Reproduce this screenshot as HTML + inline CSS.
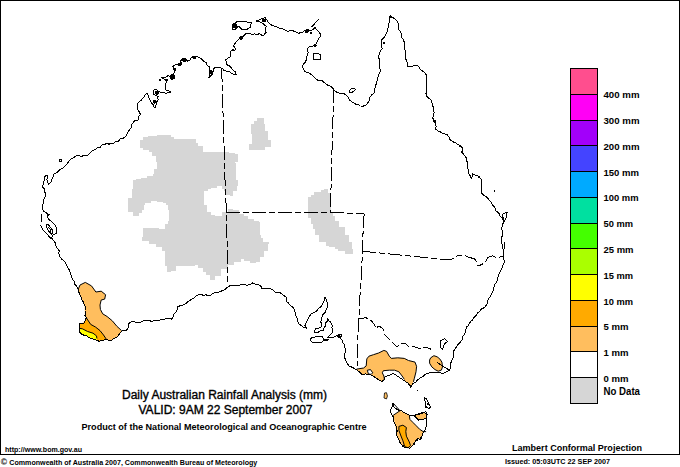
<!DOCTYPE html>
<html><head><meta charset="utf-8">
<style>
html,body{margin:0;padding:0;background:#fff;}
body{width:680px;height:467px;overflow:hidden;}
svg{display:block;}
text{font-family:"Liberation Sans",sans-serif;fill:#000;}
.lab{font-size:9.5px;font-weight:bold;}
</style></head><body>
<svg width="680" height="467" viewBox="0 0 680 467">
<rect x="0" y="0" width="680" height="467" fill="#fff"/>
<rect x="0.5" y="0.5" width="679" height="454" fill="none" stroke="#000" stroke-width="1"/>
<defs><clipPath id="land"><path d="M47.0,175.0 L47.0,179.5 L48.5,184.0 L50.7,182.5 L52.2,178.7 L53.7,174.2 L57.5,172.0 L62.7,168.2 L67.2,163.7 L70.6,159.4 L76.8,155.0 L81.2,156.8 L88.2,155.0 L92.6,150.2 L99.7,147.9 L102.4,144.4 L111.2,143.2 L118.6,141.1 L126.1,135.7 L131.4,127.1 L134.6,120.7 L138.2,120.0 L139.0,116.0 L140.5,114.5 L139.0,111.5 L137.5,109.2 L137.5,105.5 L138.2,102.5 L141.2,100.2 L144.2,96.5 L145.7,94.2 L147.2,93.5 L148.0,95.0 L149.5,99.5 L151.7,103.2 L154.0,107.0 L155.5,107.7 L156.2,104.0 L157.0,101.7 L158.5,99.5 L157.0,98.0 L158.5,96.5 L155.5,95.7 L154.7,94.2 L153.2,95.0 L153.2,92.0 L154.0,89.7 L156.2,89.7 L158.5,91.2 L161.5,92.7 L166.0,93.5 L171.2,92.0 L167.5,90.5 L165.2,89.7 L166.0,87.5 L165.2,84.5 L166.7,82.2 L164.5,79.2 L161.5,77.7 L166.0,77.0 L168.2,75.5 L169.7,76.2 L172.7,74.0 L175.0,72.5 L173.5,68.7 L172.7,66.5 L175.0,65.0 L178.0,64.2 L181.0,65.0 L181.7,63.5 L180.2,61.2 L182.5,59.0 L184.7,58.2 L186.2,59.7 L187.7,61.2 L190.0,60.5 L190.7,58.2 L193.0,56.7 L196.0,56.0 L199.5,57.7 L204.0,61.5 L209.2,66.7 L210.0,71.2 L208.5,78.0 L212.2,74.2 L213.0,69.0 L217.5,67.5 L222.0,68.2 L224.2,70.5 L229.5,71.2 L231.7,73.5 L236.2,74.2 L231.7,68.2 L226.5,64.5 L225.7,60.0 L230.2,57.0 L231.0,51.0 L235.5,49.5 L233.2,45.7 L236.2,42.0 L240.0,37.5 L243.7,36.0 L246.7,33.0 L252.0,34.5 L259.5,33.7 L263.2,36.0 L266.1,32.3 L266.1,26.3 L261.9,22.8 L255.9,21.1 L260.1,19.4 L265.3,17.7 L268.7,22.8 L272.1,25.4 L277.3,27.1 L282.4,28.8 L287.5,31.4 L292.7,30.6 L298.7,34.0 L304.7,30.6 L308.1,29.7 L313.2,29.7 L315.0,27.1 L321.0,35.7 L318.4,39.1 L315.8,44.3 L313.2,46.0 L308.1,47.7 L308.1,52.8 L306.4,59.7 L302.1,66.5 L303.8,70.0 L309.8,73.4 L316.7,79.4 L323.5,81.9 L330.4,86.2 L333.3,88.7 L337.2,92.5 L343.9,93.5 L347.8,96.4 L349.7,100.2 L355.5,104.1 L360.3,106.0 L366.1,105.0 L369.0,101.2 L369.9,97.3 L373.8,93.5 L375.7,85.8 L377.6,80.0 L378.4,75.5 L380.3,71.6 L379.3,63.9 L379.3,54.3 L382.2,48.5 L381.3,39.9 L386.1,34.1 L388.0,28.3 L389.9,18.7 L390.9,15.8 L394.7,18.7 L397.6,21.6 L398.6,29.3 L401.5,35.0 L404.4,44.7 L405.3,58.2 L408.2,66.8 L414.0,65.9 L416.9,64.9 L420.7,69.7 L425.6,73.6 L426.5,83.2 L426.0,87.7 L427.0,96.4 L431.8,101.2 L433.7,109.9 L432.7,117.6 L435.6,123.3 L435.6,129.1 L440.4,132.0 L447.2,134.9 L450.1,139.7 L455.9,142.6 L461.6,146.4 L462.6,153.2 L466.4,158.0 L467.4,164.7 L467.6,165.8 L468.5,173.5 L471.4,178.3 L472.4,173.5 L477.2,175.4 L481.1,179.3 L482.0,183.1 L481.1,191.8 L485.9,196.6 L489.7,200.5 L492.6,205.3 L497.4,212.0 L500.3,216.8 L503.2,217.8 L504.2,221.7 L502.3,226.5 L502.3,233.2 L501.3,240.9 L501.0,242.8 L502.9,245.4 L503.6,250.5 L503.6,255.7 L504.2,262.1 L500.4,271.1 L497.8,277.5 L495.2,283.9 L493.3,290.0 L486.3,305.0 L480.0,311.3 L473.8,317.5 L468.8,325.0 L465.5,330.0 L464.4,334.3 L462.8,338.6 L460.7,341.8 L456.9,346.1 L454.3,349.8 L453.7,354.6 L452.1,360.0 L450.5,365.3 L449.4,370.1 L447.3,371.2 L445.2,372.8 L440.3,372.8 L433.9,372.8 L430.7,372.3 L427.5,373.4 L424.3,375.0 L420.0,378.2 L416.0,381.9 L412.8,383.5 L410.7,387.3 L408.5,383.5 L405.3,381.4 L402.1,379.3 L398.9,377.1 L395.7,375.0 L393.5,373.4 L390.3,375.0 L387.1,376.0 L385.0,377.1 L383.9,380.3 L381.8,381.4 L378.0,379.3 L375.3,377.7 L372.7,375.5 L368.4,374.4 L365.7,373.9 L362.0,374.4 L359.3,371.8 L356.6,369.6 L355.0,369.1 L349.5,366.4 L345.9,360.9 L344.1,354.5 L345.5,349.0 L342.7,342.6 L340.1,338.3 L341.9,334.9 L339.3,334.0 L335.9,336.1 L330.7,337.4 L327.7,337.4 L329.9,335.3 L332.4,332.3 L332.4,325.4 L330.5,322.0 L327.7,318.6 L325.6,322.9 L325.1,326.3 L323.9,330.6 L320.0,331.0 L317.4,332.7 L314.4,332.3 L314.9,330.1 L315.7,328.0 L319.1,328.0 L320.9,327.1 L320.9,322.0 L321.7,317.7 L322.6,314.7 L325.6,311.7 L326.0,310.0 L327.7,304.5 L326.8,300.0 L325.0,297.3 L324.1,300.9 L321.4,306.4 L316.8,310.9 L311.4,313.6 L309.3,316.4 L308.0,319.4 L306.3,322.0 L305.0,325.4 L306.8,328.2 L303.2,327.3 L298.6,323.6 L297.7,319.1 L295.0,311.8 L292.9,307.4 L289.4,304.7 L285.9,301.2 L286.8,297.6 L283.2,295.0 L279.7,292.4 L274.7,291.8 L269.4,288.2 L264.1,289.1 L258.8,284.7 L252.6,282.9 L246.5,285.2 L241.2,284.7 L233.2,285.6 L228.8,286.5 L222.6,290.4 L212.9,293.5 L210.3,295.3 L197.1,295.3 L188.2,301.5 L182.9,305.0 L177.6,306.8 L175.0,312.9 L171.5,319.1 L166.2,318.6 L160.0,320.0 L155.9,320.3 L141.8,321.6 L130.0,322.5 L128.5,324.0 L128.5,327.5 L126.5,330.0 L124.0,330.0 L121.2,331.5 L117.6,336.8 L111.5,340.3 L108.8,340.3 L105.3,339.4 L99.1,341.2 L96.5,340.3 L91.2,338.5 L85.9,335.4 L81.5,334.1 L79.3,329.7 L79.7,323.5 L84.6,322.6 L86.3,317.8 L85.0,315.6 L84.6,305.0 L83.5,302.6 L80.9,296.5 L78.2,289.4 L74.7,284.1 L71.2,275.3 L69.4,270.0 L67.9,268.2 L64.4,261.2 L60.0,256.8 L59.1,250.6 L55.7,245.0 L54.8,241.8 L51.8,237.1 L53.5,234.5 L56.5,233.3 L56.5,229.8 L55.7,225.5 L51.4,221.3 L47.1,216.1 L49.7,214.4 L48.0,214.4 L43.3,211.0 L42.8,205.0 L43.2,200.4 L45.5,196.0 L44.7,189.2 L42.5,187.0 L43.2,184.7 L44.7,176.5 Z"/><path d="M393.1,403.2 L391.9,407.3 L390.8,409.6 L391.4,414.2 L393.7,417.7 L394.8,423.5 L396.0,429.3 L396.6,433.9 L398.9,439.7 L401.8,444.9 L405.3,447.8 L409.9,448.3 L412.8,445.5 L415.7,440.8 L417.4,438.5 L420.9,439.7 L422.0,436.2 L423.2,432.7 L425.5,429.3 L426.1,424.6 L426.7,418.8 L427.2,414.2 L426.1,411.9 L422.0,412.5 L417.4,414.2 L412.8,415.4 L409.3,415.4 L403.5,412.5 L398.9,410.2 L395.4,408.4 L393.7,406.7 Z"/></clipPath></defs><g clip-path="url(#land)" shape-rendering="crispEdges"><path d="M140.0,140.0 L142.7,140.0 L142.7,138.2 L142.7,136.5 L145.3,136.5 L148.2,136.5 L148.2,136.2 L148.2,135.9 L151.2,135.9 L154.1,135.9 L154.1,135.6 L157.2,135.6 L157.2,135.4 L157.2,135.1 L160.3,135.1 L163.4,135.1 L163.4,134.9 L163.4,134.7 L166.5,134.7 L170.9,134.7 L170.9,136.5 L174.0,136.5 L174.0,137.8 L174.0,139.1 L177.1,139.1 L180.1,139.1 L180.1,139.1 L180.1,139.1 L183.1,139.1 L186.1,139.1 L186.1,139.1 L186.1,139.1 L189.1,139.1 L192.1,139.1 L192.1,139.1 L195.6,139.1 L195.6,142.6 L198.2,142.6 L198.2,144.4 L198.2,146.2 L200.9,146.2 L203.1,146.2 L203.1,148.8 L203.1,151.5 L205.3,151.5 L208.2,151.5 L208.2,151.5 L208.2,151.5 L211.1,151.5 L214.0,151.5 L214.0,151.5 L214.0,151.5 L216.9,151.5 L219.8,151.5 L219.8,151.5 L219.8,151.5 L222.7,151.5 L225.6,151.5 L225.6,151.5 L228.7,151.5 L228.7,152.2 L228.7,152.8 L231.8,152.8 L234.8,152.8 L234.8,153.4 L234.8,154.1 L237.9,154.1 L237.9,154.1 L237.9,156.8 L237.9,159.4 L237.9,159.4 L237.9,159.4 L237.9,162.1 L235.3,162.1 L235.3,163.0 L235.5,163.0 L235.5,165.8 L235.5,168.6 L235.6,168.6 L235.8,168.6 L235.8,171.3 L235.8,174.1 L235.9,174.1 L236.0,174.1 L236.0,176.9 L236.0,179.7 L236.2,179.7 L237.5,179.7 L237.5,182.8 L237.5,185.9 L238.8,185.9 L237.1,185.9 L237.1,188.6 L237.1,191.2 L235.3,191.2 L232.6,191.2 L232.6,195.6 L230.0,195.6 L230.0,194.7 L226.5,194.7 L226.5,194.7 L225.3,194.7 L225.3,191.2 L224.1,191.2 L224.1,188.8 L221.8,188.8 L221.8,187.4 L221.8,186.0 L219.4,186.0 L216.7,186.0 L216.7,186.9 L216.7,187.9 L213.9,187.9 L211.2,187.9 L211.2,188.8 L207.6,188.8 L207.6,190.0 L207.6,191.2 L204.1,191.2 L204.1,191.2 L204.1,194.0 L204.1,196.8 L204.1,196.8 L204.1,196.8 L204.1,199.7 L204.1,202.5 L204.1,202.5 L204.1,202.5 L204.1,205.3 L206.5,205.3 L206.5,208.4 L206.5,211.6 L208.8,211.6 L211.2,211.6 L211.2,214.7 L214.7,214.7 L214.7,215.3 L214.7,215.9 L218.2,215.9 L221.8,215.9 L221.8,214.2 L221.8,212.4 L225.3,212.4 L227.7,212.4 L227.7,210.6 L227.7,208.8 L230.0,208.8 L232.9,208.8 L232.9,209.4 L232.9,210.0 L235.9,210.0 L238.6,210.0 L238.6,212.0 L238.6,213.9 L241.4,213.9 L244.1,213.9 L244.1,215.9 L247.6,215.9 L247.6,217.7 L247.6,219.4 L251.2,219.4 L253.9,219.4 L253.9,220.2 L253.9,221.0 L256.7,221.0 L259.4,221.0 L259.4,221.8 L259.6,221.8 L259.6,225.1 L259.6,228.4 L259.9,228.4 L260.1,228.4 L260.1,231.6 L260.1,234.9 L260.4,234.9 L260.6,234.9 L260.6,238.2 L263.3,238.2 L263.3,240.2 L263.3,242.1 L266.1,242.1 L268.8,242.1 L268.8,244.1 L268.2,244.1 L268.2,247.6 L268.2,251.2 L267.6,251.2 L264.1,251.2 L264.1,254.2 L264.1,257.1 L260.6,257.1 L260.0,257.1 L260.0,259.5 L260.0,261.8 L259.4,261.8 L256.4,261.8 L256.4,262.4 L256.4,262.9 L253.5,262.9 L250.4,262.9 L250.4,261.7 L250.4,260.6 L247.2,260.6 L244.1,260.6 L244.1,259.4 L240.9,259.4 L240.9,260.9 L240.9,262.4 L237.6,262.4 L234.4,262.4 L234.4,263.8 L234.4,265.3 L231.2,265.3 L227.7,265.3 L227.7,267.2 L227.7,269.2 L224.2,269.2 L220.8,269.2 L220.8,272.5 L220.8,275.9 L217.5,275.9 L215.1,275.9 L215.1,277.9 L215.1,279.8 L212.7,279.8 L210.4,279.8 L210.4,277.2 L210.4,274.7 L208.2,274.7 L205.9,274.7 L205.9,272.1 L203.3,272.1 L203.3,269.8 L203.3,267.6 L200.8,267.6 L198.2,267.6 L198.2,265.3 L195.2,265.3 L195.2,265.4 L195.2,265.6 L192.1,265.6 L189.1,265.6 L189.1,265.7 L189.1,265.9 L186.1,265.9 L183.1,265.9 L183.1,266.0 L183.1,266.2 L180.0,266.2 L177.0,266.2 L177.0,266.3 L175.6,266.3 L175.6,268.7 L175.6,271.1 L174.1,271.1 L171.2,271.1 L171.2,271.6 L171.2,272.1 L168.4,272.1 L166.9,272.1 L166.9,269.2 L166.9,266.3 L165.5,266.3 L165.3,266.3 L165.3,263.2 L165.3,260.1 L165.1,260.1 L164.9,260.1 L164.9,257.1 L164.9,254.0 L164.7,254.0 L164.5,254.0 L164.5,250.9 L161.6,250.9 L161.6,248.9 L161.6,247.0 L158.7,247.0 L155.6,247.0 L155.6,245.6 L155.6,244.1 L152.4,244.1 L149.3,244.1 L149.3,242.6 L149.3,241.2 L146.2,241.2 L142.3,241.2 L142.3,237.4 L142.6,237.4 L142.6,234.2 L142.6,231.0 L143.0,231.0 L143.3,231.0 L143.3,227.8 L146.7,227.8 L146.7,227.8 L146.7,227.8 L150.0,227.8 L153.2,227.8 L153.2,228.0 L153.2,228.2 L156.3,228.2 L159.4,228.2 L159.4,228.5 L159.4,228.7 L162.6,228.7 L164.5,228.7 L164.5,226.1 L164.5,223.6 L166.5,223.6 L168.4,223.6 L168.4,221.0 L168.6,221.0 L168.6,218.3 L168.6,215.7 L168.9,215.7 L169.1,215.7 L169.1,213.1 L169.1,210.4 L169.3,210.4 L168.0,210.4 L168.0,207.8 L168.0,205.3 L166.8,205.3 L165.5,205.3 L165.5,202.7 L162.6,202.7 L162.6,202.2 L162.6,201.8 L159.7,201.8 L156.8,201.8 L156.8,201.3 L156.8,200.8 L153.9,200.8 L151.0,200.8 L151.0,202.1 L151.0,203.3 L148.1,203.3 L145.2,203.3 L145.2,204.6 L144.2,204.6 L144.2,207.5 L144.2,210.4 L143.3,210.4 L142.3,210.4 L142.3,213.3 L138.9,213.3 L138.9,214.8 L138.9,216.2 L135.6,216.2 L133.0,216.2 L133.0,214.3 L133.0,212.3 L130.5,212.3 L127.9,212.3 L127.9,210.4 L127.9,210.4 L127.9,207.3 L127.9,204.2 L127.9,204.2 L127.9,204.2 L127.9,201.0 L127.9,197.9 L127.9,197.9 L132.1,197.9 L132.1,195.6 L132.3,195.6 L132.3,192.4 L132.3,189.2 L132.4,189.2 L132.6,189.2 L132.6,186.1 L132.6,182.9 L132.7,182.9 L132.9,182.9 L132.9,179.7 L135.6,179.7 L135.6,179.2 L135.6,178.8 L138.2,178.8 L140.8,178.8 L140.8,178.3 L140.8,177.9 L143.5,177.9 L146.7,177.9 L146.7,176.7 L146.7,175.6 L150.0,175.6 L153.2,175.6 L153.2,174.4 L153.6,174.4 L153.6,171.8 L153.6,169.1 L154.1,169.1 L156.8,169.1 L156.8,167.4 L156.6,167.4 L156.6,164.5 L156.6,161.7 L156.4,161.7 L156.1,161.7 L156.1,158.8 L156.1,155.9 L155.9,155.9 L151.5,155.9 L151.5,151.5 L148.6,151.5 L148.6,150.6 L148.6,149.7 L145.8,149.7 L142.9,149.7 L142.9,148.8 L142.9,147.9 L140.0,147.9 L140.0,147.9 L140.0,145.3 L140.0,142.6 L140.0,142.6 L140.0,142.6 Z" fill="#D6D6D6"/><path d="M323.7,189.1 L327.3,189.1 L327.3,189.1 L328.2,189.1 L328.2,192.7 L330.0,192.7 L330.0,196.4 L330.2,196.4 L330.2,199.7 L330.2,203.0 L330.4,203.0 L330.6,203.0 L330.6,206.2 L330.6,209.5 L330.8,209.5 L331.0,209.5 L331.0,212.8 L332.8,212.8 L332.8,216.4 L334.6,216.4 L334.6,218.7 L334.6,221.0 L336.4,221.0 L339.1,221.0 L339.1,224.2 L339.1,227.3 L341.9,227.3 L344.6,227.3 L344.6,230.9 L344.6,234.6 L347.3,234.6 L348.7,234.6 L348.7,238.2 L348.7,241.9 L350.1,241.9 L351.5,241.9 L351.5,245.6 L351.5,249.2 L352.8,249.2 L352.8,249.2 L352.8,251.4 L352.8,253.7 L352.8,253.7 L350.6,253.7 L350.6,253.7 L350.6,253.7 L348.3,253.7 L344.9,253.7 L344.9,252.2 L344.9,250.7 L341.6,250.7 L338.2,250.7 L338.2,249.2 L335.2,249.2 L335.2,248.0 L335.2,246.7 L332.1,246.7 L329.1,246.7 L329.1,245.5 L325.5,245.5 L325.5,243.7 L325.5,241.9 L321.8,241.9 L319.1,241.9 L319.1,238.2 L319.1,234.6 L316.4,234.6 L315.2,234.6 L315.2,231.9 L315.2,229.1 L314.1,229.1 L312.9,229.1 L312.9,226.4 L312.9,223.7 L311.8,223.7 L310.6,223.7 L310.6,221.0 L310.6,218.2 L309.4,218.2 L308.2,218.2 L308.2,215.5 L308.2,215.5 L308.2,212.5 L308.2,209.4 L308.2,209.4 L308.2,209.4 L308.2,206.4 L308.2,203.4 L308.2,203.4 L308.2,203.4 L308.2,200.3 L308.2,197.3 L308.2,197.3 L310.9,197.3 L310.9,194.6 L313.7,194.6 L313.7,191.8 L315.9,191.8 L315.9,191.8 L315.9,191.8 L318.2,191.8 L320.5,191.8 L320.5,190.9 L320.5,190.0 L322.8,190.0 L323.7,190.0 Z" fill="#D6D6D6"/><path d="M257.2,118.0 L263.9,118.0 L263.9,123.9 L264.7,123.9 L264.7,130.9 L267.8,130.9 L267.8,140.0 L271.0,140.0 L271.0,146.8 L264.7,146.8 L264.7,149.8 L249.1,149.8 L249.1,143.9 L252.1,143.9 L252.1,133.9 L251.1,133.9 L251.1,123.9 L254.1,123.9 L254.1,120.9 L257.2,120.9 Z" fill="#D6D6D6"/><path d="M60.0,290.0 L78.2,289.4 L80.0,285.0 L85.3,282.4 L91.5,285.9 L95.9,292.0 L101.2,291.2 L105.6,294.7 L104.7,299.1 L101.2,300.0 L100.0,305.0 L100.4,309.4 L102.7,313.8 L107.1,316.5 L112.4,320.9 L116.8,326.2 L121.6,330.6 L124.0,335.0 L124.0,350.0 L60.0,350.0 Z" fill="#FFBE5E"/><path d="M60.0,316.0 L86.3,317.8 L90.7,324.4 L95.6,327.1 L100.0,330.6 L103.5,335.0 L106.2,339.0 L106.5,350.0 L60.0,350.0 Z" fill="#FFAA00"/><path d="M60.0,328.4 L79.7,328.4 L82.4,328.8 L87.6,331.5 L93.0,333.2 L96.5,335.9 L96.9,338.5 L97.0,350.0 L60.0,350.0 Z" fill="#FFFF00"/><path d="M356.6,369.1 L363.6,368.0 L366.2,365.9 L366.8,358.9 L368.9,356.2 L373.7,354.6 L378.6,353.0 L383.9,350.4 L386.6,351.4 L389.3,356.2 L391.4,358.4 L397.8,357.8 L404.3,358.4 L408.5,360.5 L415.0,362.1 L416.6,366.4 L416.0,371.8 L414.4,378.2 L413.4,381.9 L413.0,395.0 L350.0,395.0 L350.0,369.0 Z" fill="#FFBE5E"/><path d="M404.3,379.3 L402.1,376.0 L398.9,371.8 L394.6,370.2 L389.3,370.2 L383.4,370.7 L382.3,372.8 L383.9,376.0 L384.4,379.3 L381.8,381.4 L383.0,395.0 L406.0,395.0 Z" fill="#fff"/><path d="M380.0,400.0 L440.0,400.0 L440.0,455.0 L380.0,455.0 Z" fill="#FFBE5E"/><path d="M385.0,400.0 L393.0,403.0 L400.0,410.7 L393.1,415.4 L385.0,416.0 Z" fill="#fff"/><path d="M409.3,415.4 L409.9,419.4 L412.8,422.3 L416.3,425.8 L419.7,429.3 L423.2,431.6 L426.1,431.6 L440.0,431.6 L440.0,400.0 L409.3,400.0 Z" fill="#fff"/><path d="M413.9,415.4 L419.7,414.2 L424.4,412.5 L426.7,414.2 L426.7,418.3 L423.2,419.4 L418.6,420.0 L416.3,417.7 Z" fill="#FFBE5E" stroke="#000" stroke-width="1"/></g><path d="M78.2,289.4 L80.0,285.0 L85.3,282.4 L91.5,285.9 L95.9,292.0 L101.2,291.2 L105.6,294.7 L104.7,299.1 L101.2,300.0 L100.0,305.0 L100.4,309.4 L102.7,313.8 L107.1,316.5 L112.4,320.9 L116.8,326.2 L121.6,330.6" fill="none" stroke="#000" stroke-width="1"/><path d="M86.3,317.8 L90.7,324.4 L95.6,327.1 L100.0,330.6 L103.5,335.0 L106.2,339.0" fill="none" stroke="#000" stroke-width="1"/><path d="M79.7,328.4 L82.4,328.8 L87.6,331.5 L93.0,333.2 L96.5,335.9 L96.9,338.5" fill="none" stroke="#000" stroke-width="1"/><path d="M356.6,369.1 L363.6,368.0 L366.2,365.9 L366.8,358.9 L368.9,356.2 L373.7,354.6 L378.6,353.0 L383.9,350.4 L386.6,351.4 L389.3,356.2 L391.4,358.4 L397.8,357.8 L404.3,358.4 L408.5,360.5 L415.0,362.1 L416.6,366.4 L416.0,371.8 L414.4,378.2 L413.4,381.9" fill="none" stroke="#000" stroke-width="1"/><path d="M404.3,379.3 L402.1,376.0 L398.9,371.8 L394.6,370.2 L389.3,370.2 L383.4,370.7 L382.3,372.8 L383.9,376.0 L384.4,379.3 L381.8,381.4" fill="none" stroke="#000" stroke-width="1"/><path d="M367.3,370.2 L370.5,369.6 L372.7,372.8 L371.1,374.4 L368.4,373.9 Z" fill="#fff" stroke="#000" stroke-width="1"/><path d="M430.7,357.8 L433.9,355.7 L437.1,356.8 L439.8,358.9 L441.9,362.1 L442.5,366.9 L441.4,370.1 L438.2,371.2 L435.0,369.6 L431.8,366.9 L429.6,363.2 L429.6,360.0 Z" fill="#FFBE5E" stroke="#000" stroke-width="1"/><path d="M393.0,403.0 L400.0,410.7 L393.1,415.4" fill="none" stroke="#000" stroke-width="1"/><path d="M409.3,415.4 L409.9,419.4 L412.8,422.3 L416.3,425.8 L419.7,429.3 L423.2,431.6 L426.1,431.6" fill="none" stroke="#000" stroke-width="1"/><path d="M398.9,426.4 L402.9,425.2 L406.4,427.5 L405.8,431.6 L406.4,436.2 L409.3,442.0 L410.5,445.5 L408.1,447.8 L404.7,446.6 L402.9,440.8 L400.6,435.0 L398.9,430.4 Z" fill="#FFAA00" stroke="#000" stroke-width="1"/><path d="M384.5,393.0 L386.5,392.7 L387.4,396.0 L386.5,398.9 L384.0,398.0 Z" fill="#FFBE5E" stroke="#000" stroke-width="0.8"/><g fill="none" stroke="#000" stroke-width="1" stroke-linejoin="round" shape-rendering="crispEdges"><path d="M47.0,175.0 L47.6,177.2 L47.0,179.5 L47.2,181.9 L48.5,184.0 L50.7,182.5 L52.2,178.7 L53.4,176.6 L53.7,174.2 L57.5,172.0 L59.9,169.8 L62.7,168.2 L64.9,165.9 L67.2,163.7 L68.8,161.5 L70.6,159.4 L72.8,158.1 L75.0,156.8 L76.8,155.0 L79.2,155.3 L81.2,156.8 L83.3,155.5 L86.0,156.1 L88.2,155.0 L90.3,152.5 L92.6,150.2 L95.1,149.8 L97.1,147.9 L99.7,147.9 L101.0,146.1 L102.4,144.4 L104.6,144.5 L106.7,143.4 L109.1,144.2 L111.2,143.2 L113.8,143.1 L115.9,141.1 L118.6,141.1 L120.0,139.1 L122.4,138.5 L124.6,137.6 L126.1,135.7 L127.3,133.5 L128.4,131.2 L130.0,129.2 L131.4,127.1 L131.8,124.6 L133.1,122.6 L134.6,120.7 L138.2,120.0 L139.0,116.0 L140.5,114.5 L139.0,111.5 L137.5,109.2 L137.5,105.5 L138.2,102.5 L141.2,100.2 L142.6,98.3 L144.2,96.5 L145.7,94.2 L147.2,93.5 L148.0,95.0 L148.8,97.2 L149.5,99.5 L151.7,103.2 L153.2,104.9 L154.0,107.0 L155.5,107.7 L156.2,104.0 L157.0,101.7 L158.5,99.5 L157.0,98.0 L158.5,96.5 L155.5,95.7 L154.7,94.2 L153.2,95.0 L153.2,92.0 L154.0,89.7 L156.2,89.7 L158.5,91.2 L161.5,92.7 L163.8,92.7 L166.0,93.5 L168.5,92.3 L171.2,92.0 L167.5,90.5 L165.2,89.7 L166.0,87.5 L165.2,84.5 L166.7,82.2 L164.5,79.2 L161.5,77.7 L163.7,77.3 L166.0,77.0 L168.2,75.5 L169.7,76.2 L172.7,74.0 L175.0,72.5 L173.5,68.7 L172.7,66.5 L175.0,65.0 L178.0,64.2 L181.0,65.0 L181.7,63.5 L180.2,61.2 L182.5,59.0 L184.7,58.2 L186.2,59.7 L187.7,61.2 L190.0,60.5 L190.7,58.2 L193.0,56.7 L196.0,56.0 L199.5,57.7 L202.0,59.3 L204.0,61.5 L206.3,62.7 L207.1,65.3 L209.2,66.7 L209.5,69.0 L210.0,71.2 L209.3,73.4 L209.5,75.8 L208.5,78.0 L210.9,76.6 L212.2,74.2 L213.2,71.7 L213.0,69.0 L215.1,67.7 L217.5,67.5 L219.8,67.6 L222.0,68.2 L224.2,70.5 L226.8,71.2 L229.5,71.2 L231.7,73.5 L233.9,74.2 L236.2,74.2 L235.3,71.8 L233.1,70.3 L231.7,68.2 L229.4,65.9 L226.5,64.5 L226.4,62.2 L225.7,60.0 L227.8,58.2 L230.2,57.0 L230.7,54.0 L231.0,51.0 L233.4,50.8 L235.5,49.5 L234.8,47.3 L233.2,45.7 L234.7,43.9 L236.2,42.0 L238.2,39.8 L240.0,37.5 L243.7,36.0 L246.7,33.0 L249.6,33.0 L252.0,34.5 L254.5,33.8 L257.1,34.4 L259.5,33.7 L263.2,36.0 L264.5,34.1 L266.1,32.3 L265.6,29.3 L266.1,26.3 L264.0,24.5 L261.9,22.8 L259.0,21.6 L255.9,21.1 L258.1,20.5 L260.1,19.4 L262.6,18.4 L265.3,17.7 L267.1,20.2 L268.7,22.8 L272.1,25.4 L274.7,26.3 L277.3,27.1 L279.7,28.4 L282.4,28.8 L284.9,30.1 L287.5,31.4 L290.1,30.8 L292.7,30.6 L294.7,31.7 L297.1,32.2 L298.7,34.0 L300.3,32.2 L302.9,32.0 L304.7,30.6 L308.1,29.7 L310.6,30.5 L313.2,29.7 L315.0,27.1 L316.4,29.3 L318.1,31.3 L319.9,33.2 L321.0,35.7 L318.4,39.1 L317.1,41.7 L315.8,44.3 L313.2,46.0 L310.4,46.1 L308.1,47.7 L307.7,50.2 L308.1,52.8 L307.5,55.1 L306.4,57.3 L306.4,59.7 L305.3,62.2 L303.5,64.2 L302.1,66.5 L303.8,70.0 L305.4,71.8 L307.7,72.4 L309.8,73.4 L311.6,74.9 L313.5,76.1 L314.9,78.0 L316.7,79.4 L318.7,80.9 L321.5,80.3 L323.5,81.9 L325.6,83.7 L327.8,85.2 L330.4,86.2 L333.3,88.7 L334.8,91.0 L337.2,92.5 L339.4,93.2 L341.6,93.7 L343.9,93.5 L345.8,95.0 L347.8,96.4 L349.7,100.2 L351.6,101.6 L353.6,102.7 L355.5,104.1 L358.2,104.4 L360.3,106.0 L363.3,106.1 L366.1,105.0 L367.6,103.2 L369.0,101.2 L369.9,97.3 L371.5,95.1 L373.8,93.5 L374.4,90.9 L375.0,88.4 L375.7,85.8 L376.4,82.8 L377.6,80.0 L377.8,77.7 L378.4,75.5 L380.3,71.6 L380.0,69.0 L379.8,66.4 L379.3,63.9 L379.5,61.5 L379.2,59.1 L378.5,56.7 L379.3,54.3 L380.4,51.2 L382.2,48.5 L381.4,45.7 L381.7,42.8 L381.3,39.9 L383.3,38.3 L384.9,36.3 L386.1,34.1 L387.5,31.3 L388.0,28.3 L389.0,26.0 L388.6,23.4 L390.0,21.2 L389.9,18.7 L390.9,15.8 L392.6,17.5 L394.7,18.7 L397.6,21.6 L398.6,24.1 L399.0,26.6 L398.6,29.3 L400.7,31.8 L401.5,35.0 L401.8,37.5 L403.3,39.7 L404.3,42.1 L404.4,44.7 L404.4,47.0 L404.9,49.2 L405.5,51.4 L405.5,53.7 L405.1,56.0 L405.3,58.2 L406.5,60.2 L407.1,62.4 L407.2,64.8 L408.2,66.8 L411.1,66.3 L414.0,65.9 L416.9,64.9 L419.0,67.1 L420.7,69.7 L423.2,71.6 L425.6,73.6 L426.6,75.9 L426.2,78.4 L426.4,80.8 L426.5,83.2 L426.7,85.5 L426.0,87.7 L427.0,90.5 L426.0,93.6 L427.0,96.4 L428.6,98.0 L430.5,99.3 L431.8,101.2 L432.1,103.4 L432.3,105.7 L434.0,107.6 L433.7,109.9 L434.1,112.6 L433.6,115.1 L432.7,117.6 L433.8,120.6 L435.6,123.3 L436.1,126.2 L435.6,129.1 L437.8,130.8 L440.4,132.0 L442.6,133.2 L444.9,134.0 L447.2,134.9 L449.0,137.1 L450.1,139.7 L452.7,141.8 L455.9,142.6 L457.5,144.3 L459.7,145.2 L461.6,146.4 L462.4,148.6 L462.0,151.0 L462.6,153.2 L464.6,155.5 L466.4,158.0 L466.6,160.3 L467.3,162.4 L467.4,164.7 L467.6,165.8 L467.7,168.4 L468.9,170.9 L468.5,173.5 L470.2,175.7 L471.4,178.3 L472.6,176.1 L472.4,173.5 L474.6,175.0 L477.2,175.4 L479.4,177.1 L481.1,179.3 L482.0,183.1 L481.1,185.9 L481.7,188.9 L481.1,191.8 L482.2,193.9 L484.0,195.3 L485.9,196.6 L487.9,198.5 L489.7,200.5 L491.5,202.7 L492.6,205.3 L494.8,207.1 L495.3,210.1 L497.4,212.0 L499.5,214.0 L500.3,216.8 L503.2,217.8 L504.2,221.7 L502.8,223.9 L502.3,226.5 L501.6,228.7 L502.2,231.0 L502.3,233.2 L502.5,235.8 L501.0,238.3 L501.3,240.9 L501.0,242.8 L502.9,245.4 L502.5,248.1 L503.6,250.5 L503.3,253.1 L503.6,255.7 L503.9,258.9 L504.2,262.1 L503.4,264.4 L502.5,266.7 L501.8,269.0 L500.4,271.1 L499.3,273.1 L498.8,275.4 L497.8,277.5 L497.4,279.8 L496.7,282.0 L495.2,283.9 L494.0,286.9 L493.3,290.0 L492.6,292.3 L491.3,294.3 L490.6,296.5 L488.8,298.3 L487.7,300.4 L488.0,303.2 L486.3,305.0 L485.1,306.9 L483.3,308.3 L481.0,309.2 L480.0,311.3 L477.6,313.0 L476.0,315.6 L473.8,317.5 L472.9,319.6 L471.1,321.1 L469.6,322.8 L468.8,325.0 L466.6,327.1 L465.5,330.0 L465.2,332.2 L464.4,334.3 L463.0,336.2 L462.8,338.6 L460.7,341.8 L458.6,343.8 L456.9,346.1 L455.6,348.0 L454.3,349.8 L453.2,352.1 L453.7,354.6 L453.3,357.4 L452.1,360.0 L451.0,362.5 L450.5,365.3 L450.6,367.8 L449.4,370.1 L447.3,371.2 L445.2,372.8 L442.8,373.3 L440.3,372.8 L437.1,372.1 L433.9,372.8 L430.7,372.3 L427.5,373.4 L424.3,375.0 L422.4,377.0 L420.0,378.2 L417.7,379.7 L416.0,381.9 L412.8,383.5 L410.7,387.3 L408.5,383.5 L405.3,381.4 L402.1,379.3 L398.9,377.1 L395.7,375.0 L393.5,373.4 L390.3,375.0 L387.1,376.0 L385.0,377.1 L383.9,380.3 L381.8,381.4 L378.0,379.3 L375.3,377.7 L372.7,375.5 L370.6,374.8 L368.4,374.4 L365.7,373.9 L362.0,374.4 L359.3,371.8 L356.6,369.6 L355.0,369.1 L352.5,367.3 L349.5,366.4 L347.5,363.8 L345.9,360.9 L345.1,358.8 L344.4,356.7 L344.1,354.5 L345.4,351.9 L345.5,349.0 L344.7,346.8 L344.3,344.4 L342.7,342.6 L341.9,340.1 L340.1,338.3 L341.9,334.9 L339.3,334.0 L335.9,336.1 L333.4,337.3 L330.7,337.4 L327.7,337.4 L329.9,335.3 L332.4,332.3 L332.5,330.0 L331.8,327.7 L332.4,325.4 L330.5,322.0 L328.5,320.8 L327.7,318.6 L327.3,321.0 L325.6,322.9 L325.1,326.3 L323.9,328.3 L323.9,330.6 L320.0,331.0 L317.4,332.7 L314.4,332.3 L314.9,330.1 L315.7,328.0 L319.1,328.0 L320.9,327.1 L321.4,324.6 L320.9,322.0 L321.7,317.7 L322.6,314.7 L325.6,311.7 L326.0,310.0 L327.4,307.4 L327.7,304.5 L327.0,302.3 L326.8,300.0 L325.0,297.3 L324.1,300.9 L322.6,303.6 L321.4,306.4 L318.8,308.3 L316.8,310.9 L314.2,312.4 L311.4,313.6 L309.3,316.4 L308.0,319.4 L306.3,322.0 L305.0,325.4 L306.8,328.2 L303.2,327.3 L301.0,325.4 L298.6,323.6 L297.7,321.4 L297.7,319.1 L296.2,316.9 L295.5,314.4 L295.0,311.8 L294.5,309.3 L292.9,307.4 L291.2,306.0 L289.4,304.7 L288.1,302.5 L285.9,301.2 L286.8,297.6 L285.0,296.4 L283.2,295.0 L279.7,292.4 L277.2,292.5 L274.7,291.8 L272.3,289.6 L269.4,288.2 L266.7,288.1 L264.1,289.1 L261.8,288.2 L260.7,286.0 L258.8,284.7 L255.5,284.4 L252.6,282.9 L249.8,284.6 L246.5,285.2 L243.9,284.3 L241.2,284.7 L238.6,285.7 L235.9,285.7 L233.2,285.6 L230.8,285.3 L228.8,286.5 L226.8,287.9 L225.0,289.6 L222.6,290.4 L220.3,291.7 L217.9,292.3 L215.2,292.4 L212.9,293.5 L210.3,295.3 L208.1,295.9 L205.9,294.6 L203.7,295.5 L201.5,294.5 L199.3,294.6 L197.1,295.3 L195.1,297.1 L192.9,298.7 L190.4,300.0 L188.2,301.5 L185.9,303.8 L182.9,305.0 L180.2,305.7 L177.6,306.8 L177.4,309.1 L176.6,311.2 L175.0,312.9 L173.2,314.6 L173.0,317.2 L171.5,319.1 L168.9,318.7 L166.2,318.6 L163.1,319.4 L160.0,320.0 L155.9,320.3 L153.6,320.8 L151.3,321.4 L148.8,320.3 L146.4,320.4 L144.1,320.6 L141.8,321.6 L139.5,322.4 L137.1,322.4 L134.7,322.0 L132.3,321.6 L130.0,322.5 L128.5,324.0 L128.5,327.5 L126.5,330.0 L124.0,330.0 L121.2,331.5 L119.3,334.1 L117.6,336.8 L115.4,337.7 L113.4,338.9 L111.5,340.3 L108.8,340.3 L105.3,339.4 L102.3,340.7 L99.1,341.2 L96.5,340.3 L93.9,339.3 L91.2,338.5 L88.4,337.2 L85.9,335.4 L83.6,335.1 L81.5,334.1 L79.8,332.2 L79.3,329.7 L79.1,326.6 L79.7,323.5 L82.3,323.8 L84.6,322.6 L85.4,320.2 L86.3,317.8 L85.0,315.6 L85.1,312.9 L85.0,310.3 L85.4,307.6 L84.6,305.0 L83.5,302.6 L82.5,300.6 L81.5,298.7 L80.9,296.5 L79.7,294.2 L78.8,291.9 L78.2,289.4 L76.9,286.4 L74.7,284.1 L74.4,281.7 L72.7,279.8 L71.8,277.6 L71.2,275.3 L70.4,272.6 L69.4,270.0 L67.9,268.2 L66.8,265.8 L65.7,263.5 L64.4,261.2 L61.9,259.3 L60.0,256.8 L58.8,253.8 L59.1,250.6 L57.0,248.0 L55.7,245.0 L54.8,241.8 L52.7,239.8 L51.8,237.1 L53.5,234.5 L56.5,233.3 L56.5,229.8 L55.7,225.5 L53.6,223.3 L51.4,221.3 L49.4,220.0 L48.0,218.3 L47.1,216.1 L49.7,214.4 L48.0,214.4 L45.8,212.5 L43.3,211.0 L42.7,208.0 L42.8,205.0 L43.5,202.7 L43.2,200.4 L44.3,198.2 L45.5,196.0 L45.8,193.7 L44.4,191.5 L44.7,189.2 L42.5,187.0 L43.2,184.7 L43.7,182.0 L44.7,179.3 L44.7,176.5 Z"/><path d="M393.1,403.2 L391.9,407.3 L390.8,409.6 L390.4,412.0 L391.4,414.2 L393.7,417.7 L393.5,420.7 L394.8,423.5 L396.1,426.3 L396.0,429.3 L397.0,431.5 L396.6,433.9 L397.3,437.0 L398.9,439.7 L400.0,442.5 L401.8,444.9 L403.4,446.6 L405.3,447.8 L407.6,447.7 L409.9,448.3 L412.8,445.5 L414.4,443.2 L415.7,440.8 L417.4,438.5 L420.9,439.7 L422.0,436.2 L423.2,432.7 L425.5,429.3 L426.0,427.0 L426.1,424.6 L426.5,421.7 L426.7,418.8 L426.4,416.4 L427.2,414.2 L426.1,411.9 L422.0,412.5 L419.7,413.5 L417.4,414.2 L415.1,415.0 L412.8,415.4 L409.3,415.4 L406.6,413.6 L403.5,412.5 L401.6,410.6 L398.9,410.2 L395.4,408.4 L393.7,406.7 Z"/><path d="M311.0,338.3 L312.7,337.4 L317.9,336.6 L322.1,336.6 L323.4,339.1 L328.1,339.6 L327.3,340.4 L323.0,340.9 L321.7,342.6 L317.9,342.1 L312.7,342.6 L310.6,340.4 Z"/><path d="M232.5,25.5 L237.0,21.7 L244.5,21.7 L251.2,22.5 L250.5,27.0 L246.0,30.0 L241.5,29.2 L238.5,26.2 L235.5,29.2 L232.5,29.2 Z"/><path d="M313.5,54.0 L318.0,53.7 L321.0,55.0 L320.5,59.7 L314.0,59.5 Z"/><path d="M349.0,91.5 L351.0,89.0 L355.0,88.7 L355.3,90.0 L352.0,92.5 L349.0,92.8 Z"/><path d="M59.5,159.0 L61.5,159.0 L61.5,161.3 L59.5,161.3 Z"/><path d="M424.4,398.0 L426.5,398.5 L428.5,403.0 L430.7,407.0 L429.0,408.4 L426.0,407.5 L425.5,403.0 Z"/><path d="M440.3,340.7 L444.6,338.6 L447.8,341.8 L445.7,342.3 L444.1,345.0 L442.5,349.3 L440.9,347.7 L440.3,343.9 Z"/><path d="M503.0,214.0 L507.1,212.0 L506.0,218.0 L504.0,222.0 L502.5,219.0 Z"/><circle cx="157.0" cy="92.7" r="2.3" fill="#000" stroke="none"/><circle cx="172.3" cy="77.0" r="2.7" fill="#000" stroke="none"/><circle cx="179.2" cy="64.7" r="1.9" fill="#000" stroke="none"/><circle cx="184.3" cy="60.2" r="1.9" fill="#000" stroke="none"/><circle cx="194.5" cy="57.5" r="1.5" fill="#000" stroke="none"/><circle cx="154.7" cy="101.7" r="1.9" fill="#000" stroke="none"/><circle cx="166.3" cy="80.0" r="1.5" fill="#000" stroke="none"/><circle cx="175.0" cy="69.5" r="1.2" fill="#000" stroke="none"/><circle cx="160.0" cy="80.0" r="1.2" fill="#000" stroke="none"/><circle cx="234.5" cy="25.5" r="2.5" fill="#000" stroke="none"/><circle cx="211" cy="72" r="1.8" fill="#000" stroke="none"/><circle cx="241" cy="38" r="1.8" fill="#000" stroke="none"/><circle cx="233" cy="50" r="1.5" fill="#000" stroke="none"/><circle cx="264" cy="20.5" r="2" fill="#000" stroke="none"/><circle cx="307" cy="31" r="2" fill="#000" stroke="none"/><circle cx="311" cy="33" r="1.5" fill="#000" stroke="none"/><circle cx="315" cy="45.5" r="1.6" fill="#000" stroke="none"/><circle cx="210" cy="76" r="1.2" fill="#000" stroke="none"/><circle cx="494.8" cy="191" r="0.7" fill="#000" stroke="none"/><circle cx="479" cy="177" r="1.3" fill="#000" stroke="none"/><circle cx="417" cy="440" r="1.5" fill="#000" stroke="none"/><circle cx="421" cy="438" r="1.3" fill="#000" stroke="none"/><circle cx="414" cy="444" r="1.2" fill="#000" stroke="none"/><circle cx="411" cy="386.4" r="1.2" fill="#000" stroke="none"/><circle cx="417.3" cy="390.6" r="0.6" fill="#000" stroke="none"/><circle cx="339" cy="336.5" r="1.5" fill="#000" stroke="none"/><circle cx="390.5" cy="16.7" r="1.3" fill="#000" stroke="none"/><circle cx="383.7" cy="43" r="1.2" fill="#000" stroke="none"/><circle cx="381.5" cy="40" r="1" fill="#000" stroke="none"/><circle cx="434.5" cy="121" r="1.3" fill="#000" stroke="none"/><circle cx="453" cy="141.5" r="1" fill="#000" stroke="none"/><circle cx="460" cy="146" r="1" fill="#000" stroke="none"/><circle cx="462" cy="152" r="0.9" fill="#000" stroke="none"/><circle cx="426.5" cy="407" r="1" fill="#000" stroke="none"/><circle cx="428" cy="404" r="0.8" fill="#000" stroke="none"/><circle cx="403" cy="446" r="1" fill="#000" stroke="none"/><circle cx="397" cy="431" r="0.8" fill="#000" stroke="none"/><path d="M41.1,214.0 L41.1,221.7"/><path d="M40.3,224.7 L42.8,229.8 L47.1,234.1 L50.5,237.5 L51.4,239.2"/><path d="M40.8,225.5 L43.3,230.5 L47.6,234.8 L50.5,238.3"/><path d="M46.7,224.3 L48.4,224.7 L52.3,229.8 L52.7,233.3 L51.4,234.1 L48.4,230.7 L46.7,227.3 L46.7,224.3"/><path d="M48.5,227.0 L50.5,230.0 L50.0,232.0"/><path d="M311.5,27.1 L319.2,18.6"/><path d="M504.9,241.6 L504.9,246.7 L503.6,250.5"/></g><g fill="none" stroke="#000" stroke-width="1" shape-rendering="crispEdges"><path d="M221.7,68.5 L225.3,190.0 L226.5,212.0 L227.9,282.0" stroke-dasharray="14 3 6 3"/><path d="M226.5,212.0 L330.5,212.4 L364.1,213.7" stroke-dasharray="14 3 6 3"/><path d="M333.9,89.0 L331.4,170.0 L330.5,212.0" stroke-dasharray="14 3 6 3"/><path d="M364.1,213.7 L363.7,225.0 L362.5,240.0 L361.8,270.0 L359.7,300.0 L358.9,318.0 L357.5,345.0 L357.0,369.0" stroke-dasharray="14 3 6 3"/><path d="M362.5,251.3 L400.0,255.0 L445.1,259.5 L450.9,259.5 L454.1,257.6 L458.6,255.4 L464.4,255.4 L469.5,257.6 L474.0,258.5 L476.6,261.5 L477.9,265.3 L479.8,265.3 L483.7,263.4 L486.2,260.8 L487.5,257.6 L492.7,255.7 L495.2,257.0 L500.4,257.0 L503.6,255.7" stroke-dasharray="14 3 6 3"/><path d="M358.9,318.6 L366.2,317.8 L371.0,320.2 L374.3,324.3 L375.9,328.3 L379.1,325.9 L383.2,329.1 L384.0,334.0 L388.8,338.8 L393.7,343.7 L396.9,346.9 L400.1,343.7 L405.8,343.7 L408.2,346.1 L414.7,346.9 L419.6,348.5 L426.0,347.7 L430.1,348.5 L431.7,351.8" stroke-dasharray="9 3"/><path d="M437.1,362.1 L441.4,365.3 L445.2,367.5 L449.4,370.1" stroke-dasharray="14 3 6 3"/></g>
<rect x="570" y="68" width="28" height="26" fill="#FF4E8E"/><rect x="570" y="94" width="28" height="26" fill="#FF00F5"/><rect x="570" y="120" width="28" height="25" fill="#A200FA"/><rect x="570" y="145" width="28" height="26" fill="#4444FF"/><rect x="570" y="171" width="28" height="26" fill="#00AAFF"/><rect x="570" y="197" width="28" height="26" fill="#00E0A0"/><rect x="570" y="223" width="28" height="25" fill="#44FF00"/><rect x="570" y="248" width="28" height="26" fill="#AAFF00"/><rect x="570" y="274" width="28" height="26" fill="#FFFF00"/><rect x="570" y="300" width="28" height="26" fill="#FFAA00"/><rect x="570" y="326" width="28" height="25" fill="#FFBE5E"/><rect x="570" y="351" width="28" height="26" fill="#FFFFFF"/><rect x="570" y="377" width="28" height="26" fill="#D6D6D6"/><g stroke="#000" stroke-width="1" shape-rendering="crispEdges" fill="none"><rect x="570.5" y="68.5" width="27" height="335"/><line x1="570" y1="94.5" x2="598" y2="94.5"/><line x1="570" y1="120.5" x2="598" y2="120.5"/><line x1="570" y1="145.5" x2="598" y2="145.5"/><line x1="570" y1="171.5" x2="598" y2="171.5"/><line x1="570" y1="197.5" x2="598" y2="197.5"/><line x1="570" y1="223.5" x2="598" y2="223.5"/><line x1="570" y1="248.5" x2="598" y2="248.5"/><line x1="570" y1="274.5" x2="598" y2="274.5"/><line x1="570" y1="300.5" x2="598" y2="300.5"/><line x1="570" y1="326.5" x2="598" y2="326.5"/><line x1="570" y1="351.5" x2="598" y2="351.5"/><line x1="570" y1="377.5" x2="598" y2="377.5"/></g><text x="603.5" y="98.4" class="lab" textLength="36" lengthAdjust="spacingAndGlyphs">400 mm</text><text x="603.5" y="124.1" class="lab" textLength="36" lengthAdjust="spacingAndGlyphs">300 mm</text><text x="603.5" y="149.9" class="lab" textLength="36" lengthAdjust="spacingAndGlyphs">200 mm</text><text x="603.5" y="175.7" class="lab" textLength="35.5" lengthAdjust="spacingAndGlyphs">150 mm</text><text x="603.5" y="201.4" class="lab" textLength="35" lengthAdjust="spacingAndGlyphs">100 mm</text><text x="603.5" y="227.2" class="lab" textLength="29.5" lengthAdjust="spacingAndGlyphs">50 mm</text><text x="603.5" y="253.0" class="lab" textLength="30" lengthAdjust="spacingAndGlyphs">25 mm</text><text x="603.5" y="278.8" class="lab" textLength="29.5" lengthAdjust="spacingAndGlyphs">15 mm</text><text x="603.5" y="304.5" class="lab" textLength="29.5" lengthAdjust="spacingAndGlyphs">10 mm</text><text x="603.5" y="330.3" class="lab" textLength="25" lengthAdjust="spacingAndGlyphs">5 mm</text><text x="603.5" y="356.1" class="lab" textLength="25" lengthAdjust="spacingAndGlyphs">1 mm</text><text x="603.5" y="381.8" class="lab" textLength="25" lengthAdjust="spacingAndGlyphs">0 mm</text><text x="603.5" y="395" class="lab" style="font-size:10px" textLength="36.5" lengthAdjust="spacingAndGlyphs">No Data</text>
<text x="224.5" y="398.5" text-anchor="middle" font-size="12" stroke="#000" stroke-width="0.35" textLength="205" lengthAdjust="spacingAndGlyphs">Daily Australian Rainfall Analysis (mm)</text>
<text x="225.5" y="414" text-anchor="middle" font-size="12" stroke="#000" stroke-width="0.35" textLength="174" lengthAdjust="spacingAndGlyphs">VALID: 9AM 22 September 2007</text>
<text x="224" y="430.3" text-anchor="middle" font-size="9.3" font-weight="bold" textLength="285" lengthAdjust="spacingAndGlyphs">Product of the National Meteorological and Oceanographic Centre</text>
<text x="512" y="451" font-size="9.5" font-weight="bold" textLength="130" lengthAdjust="spacingAndGlyphs">Lambert Conformal Projection</text>
<text x="5" y="451.5" font-size="7" font-weight="bold" textLength="77" lengthAdjust="spacingAndGlyphs">http://www.bom.gov.au</text>
<text x="0.8" y="465.2" font-size="8.5" font-weight="bold">©</text><text x="9.3" y="464.8" font-size="7.6" font-weight="bold" textLength="248" lengthAdjust="spacingAndGlyphs">Commonwealth of Australia 2007, Commonwealth Bureau of Meteorology</text>
<text x="505" y="464" font-size="6.5" font-weight="bold" textLength="105" lengthAdjust="spacingAndGlyphs">Issued: 05:03UTC 22 SEP 2007</text>
</svg>
</body></html>
